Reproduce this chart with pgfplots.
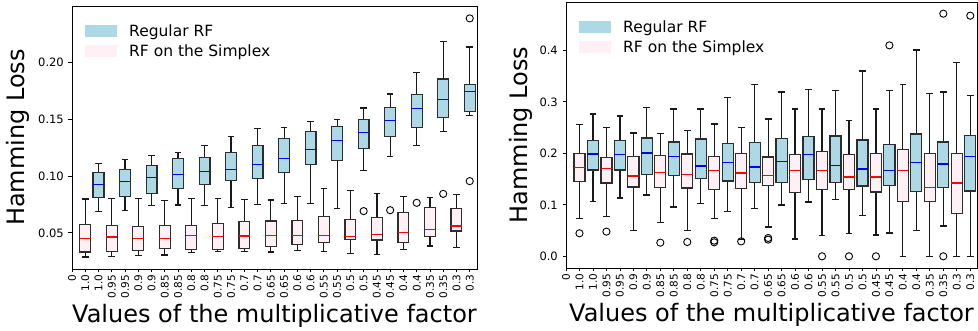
\documentclass[border=0pt]{standalone}
\usepackage{fontspec}
\setmainfont{DejaVu Sans}
\usepackage{pgfplots}
\pgfplotsset{compat=1.18}
\definecolor{lblue}{RGB}{173,216,230}
\definecolor{lpink}{RGB}{255,240,245}
\definecolor{boxedge}{RGB}{45,45,45}
\pgfplotsset{
  whisk/.style={forget plot, black!90, line width=1.2pt, unbounded coords=jump, mark=none},
  bluebox/.style={forget plot, fill=lblue, draw=boxedge, line width=1.2pt, mark=none},
  pinkbox/.style={forget plot, fill=lpink, draw=boxedge, line width=1.2pt, mark=none},
  bluemed/.style={forget plot, blue, line width=1.2pt, mark=none},
  pinkmed/.style={forget plot, red, line width=1.2pt, mark=none},
  outl/.style={forget plot, only marks, mark=o, mark size=3.6pt, black, mark options={line width=0.9pt}},
  common/.style={scale only axis, xmin=0, xtick={0,...,30}, tick pos=left,
    xticklabels={0,1.0,1.0,0.95,0.95,0.9,0.9,0.85,0.85,0.8,0.8,0.75,0.75,0.7,0.7,0.65,0.65,0.6,0.6,0.55,0.55,0.5,0.5,0.45,0.45,0.4,0.4,0.35,0.35,0.3,0.3},
    x tick label style={rotate=90, anchor=east, font=\fontsize{10.5}{12}\selectfont, inner sep=2pt},
    y tick label style={font=\fontsize{11.5}{13}\selectfont, inner sep=4.5pt},
    /pgf/number format/assume math mode=true,
    tick align=outside, major tick length=3.5pt, tick style={black, line width=0.8pt},
    axis line style={line width=0.8pt},
    xlabel={Values of the multiplicative factor}, ylabel={Hamming Loss},
    label style={font=\fontsize{24}{28}\selectfont},
    legend style={at={(0,1)}, anchor=north west, draw=none, fill=none,
      font=\fontsize{15.5}{18}\selectfont, row sep=3.5pt,
      inner xsep=12.5pt, inner ysep=17pt, nodes={inner sep=1.5pt}},
    legend cell align=left,
    legend image code/.code={\fill[#1] (0pt,-6pt) rectangle (32pt,6pt); \path (43pt,0pt);},
  }
}
% \bx{position}{lower whisker}{lower quartile}{median}{upper quartile}{upper whisker}{blue|pink}
\newcommand\bx[7]{%
  \pgfmathsetmacro\bxl{#1-0.41}\pgfmathsetmacro\bxr{#1+0.41}%
  \pgfmathsetmacro\cpl{#1-0.25}\pgfmathsetmacro\cpr{#1+0.25}%
  \addplot[whisk] coordinates {(\cpl,#2) (\cpr,#2) (nan,nan) (#1,#2) (#1,#3) (nan,nan) (#1,#5) (#1,#6) (nan,nan) (\cpl,#6) (\cpr,#6)};
  \addplot[#7box] coordinates {(\bxl,#3) (\bxr,#3) (\bxr,#5) (\bxl,#5)} --cycle;
  \addplot[#7med] coordinates {(\bxl,#4) (\bxr,#4)};
}
\begin{document}
\begin{tikzpicture}
\begin{axis}[common, at={(72pt,62pt)}, anchor=south west, width=405pt, height=263pt,
  xmax=30.55, ymin=0.0182, ymax=0.2499, ytick={0.05,0.10,0.15,0.20},
  yticklabel style={/pgf/number format/fixed, /pgf/number format/fixed zerofill, /pgf/number format/precision=2},
  xlabel style={at={(axis description cs:0.5,0)}, anchor=north, yshift=-35pt, inner sep=0pt},
  ylabel style={at={(axis description cs:-0.134,0.5)}, anchor=center, inner sep=0pt}]
\addlegendimage{fill=lblue, draw=none}
\addlegendimage{fill=lpink, draw=none}
\legend{Regular RF, RF on the Simplex}
% RF on the Simplex
\bx{1}{0.0287}{0.0331}{0.0454}{0.0572}{0.0798}{pink}
\bx{3}{0.0293}{0.0337}{0.0463}{0.0566}{0.0803}{pink}
\bx{5}{0.0299}{0.0346}{0.0449}{0.0557}{0.0800}{pink}
\bx{7}{0.0305}{0.0363}{0.0451}{0.0566}{0.0783}{pink}
\bx{9}{0.0325}{0.0352}{0.0475}{0.0563}{0.0803}{pink}
\bx{11}{0.0334}{0.0357}{0.0466}{0.0586}{0.0800}{pink}
\bx{13}{0.0334}{0.0366}{0.0472}{0.0598}{0.0795}{pink}
\bx{15}{0.0331}{0.0381}{0.0475}{0.0604}{0.0789}{pink}
\bx{17}{0.0343}{0.0399}{0.0475}{0.0610}{0.0818}{pink}
\bx{19}{0.0337}{0.0416}{0.0475}{0.0642}{0.0891}{pink}
\bx{21}{0.0317}{0.0440}{0.0466}{0.0616}{0.0874}{pink}
\bx{23}{0.0308}{0.0437}{0.0484}{0.0636}{0.0850}{pink}
\bx{25}{0.0352}{0.0416}{0.0507}{0.0677}{0.0818}{pink}
\bx{27}{0.0384}{0.0469}{0.0528}{0.0727}{0.0809}{pink}
\bx{29}{0.0372}{0.0516}{0.0560}{0.0712}{0.0839}{pink}
% Regular RF
\bx{2}{0.0692}{0.0809}{0.0924}{0.1032}{0.1108}{blue}
\bx{4}{0.0698}{0.0824}{0.0950}{0.1056}{0.1147}{blue}
\bx{6}{0.0739}{0.0850}{0.0988}{0.1097}{0.1182}{blue}
\bx{8}{0.0745}{0.0888}{0.1015}{0.1152}{0.1208}{blue}
\bx{10}{0.0742}{0.0929}{0.1038}{0.1167}{0.1273}{blue}
\bx{12}{0.0724}{0.0959}{0.1059}{0.1208}{0.1346}{blue}
\bx{14}{0.0751}{0.0982}{0.1100}{0.1270}{0.1419}{blue}
\bx{16}{0.0759}{0.1032}{0.1152}{0.1334}{0.1428}{blue}
\bx{18}{0.0756}{0.1103}{0.1232}{0.1393}{0.1478}{blue}
\bx{20}{0.0715}{0.1138}{0.1311}{0.1434}{0.1498}{blue}
\bx{22}{0.1050}{0.1243}{0.1384}{0.1496}{0.1601}{blue}
\bx{24}{0.1170}{0.1349}{0.1487}{0.1607}{0.1724}{blue}
\bx{26}{0.1267}{0.1431}{0.1598}{0.1716}{0.1912}{blue}
\bx{28}{0.1393}{0.1516}{0.1677}{0.1856}{0.2185}{blue}
\bx{30}{0.1534}{0.1572}{0.1748}{0.1809}{0.2138}{blue}
\addplot[outl] coordinates {(22,0.0692) (24,0.0700) (26,0.0765) (28,0.0844) (30,0.0956) (30,0.2390)};
\end{axis}
\begin{axis}[common, at={(566pt,63pt)}, anchor=south west, width=411pt, height=266pt,
  xmax=30.5, ymin=-0.0227, ymax=0.4939, ytick={0,0.1,0.2,0.3,0.4},
  yticklabel style={/pgf/number format/fixed, /pgf/number format/fixed zerofill, /pgf/number format/precision=1},
  xlabel style={at={(axis description cs:0.5,0)}, anchor=north, yshift=-35pt, inner sep=0pt},
  ylabel style={at={(axis description cs:-0.1095,0.5)}, anchor=center, inner sep=0pt}]
\addlegendimage{fill=lblue, draw=none}
\addlegendimage{fill=lpink, draw=none}
\legend{Regular RF, RF on the Simplex}
% RF on the Simplex
\bx{1}{0.0738}{0.1450}{0.1728}{0.2000}{0.2557}{pink}
\bx{3}{0.0770}{0.1424}{0.1702}{0.1916}{0.2505}{pink}
\bx{5}{0.0505}{0.1346}{0.1560}{0.1935}{0.2395}{pink}
\bx{7}{0.0654}{0.1333}{0.1631}{0.1955}{0.2382}{pink}
\bx{9}{0.0505}{0.1327}{0.1592}{0.1987}{0.2440}{pink}
\bx{11}{0.0731}{0.1294}{0.1663}{0.1935}{0.2570}{pink}
\bx{13}{0.0330}{0.1314}{0.1618}{0.2000}{0.2505}{pink}
\bx{15}{0.0570}{0.1379}{0.1573}{0.1929}{0.2667}{pink}
\bx{17}{0.0337}{0.1236}{0.1663}{0.1981}{0.2861}{pink}
\bx{19}{0.0401}{0.1294}{0.1663}{0.2039}{0.2861}{pink}
\bx{21}{0.0440}{0.1294}{0.1540}{0.1981}{0.2634}{pink}
\bx{23}{0.0414}{0.1249}{0.1540}{0.2000}{0.2861}{pink}
\bx{25}{0.0}{0.1068}{0.1663}{0.2078}{0.3340}{pink}
\bx{27}{0.0}{0.1068}{0.1333}{0.2000}{0.3165}{pink}
\bx{29}{0.0}{0.0828}{0.1424}{0.2000}{0.3760}{pink}
% Regular RF
\bx{2}{0.1061}{0.1676}{0.1987}{0.2246}{0.2764}{blue}
\bx{4}{0.1133}{0.1676}{0.1981}{0.2246}{0.2725}{blue}
\bx{6}{0.1191}{0.1586}{0.2006}{0.2298}{0.2887}{blue}
\bx{8}{0.0958}{0.1566}{0.1935}{0.2220}{0.2861}{blue}
\bx{10}{0.1023}{0.1515}{0.1754}{0.2278}{0.2861}{blue}
\bx{12}{0.0874}{0.1463}{0.1825}{0.2194}{0.3081}{blue}
\bx{14}{0.0926}{0.1430}{0.1735}{0.2214}{0.3340}{blue}
\bx{16}{0.0997}{0.1437}{0.1838}{0.2291}{0.3191}{blue}
\bx{18}{0.1055}{0.1489}{0.1974}{0.2324}{0.3236}{blue}
\bx{20}{0.1107}{0.1430}{0.1767}{0.2337}{0.3217}{blue}
\bx{22}{0.0796}{0.1366}{0.1696}{0.2259}{0.3599}{blue}
\bx{24}{0.0453}{0.1372}{0.1663}{0.2168}{0.3217}{blue}
\bx{26}{0.0505}{0.1256}{0.1819}{0.2375}{0.4006}{blue}
\bx{28}{0.0589}{0.1333}{0.1793}{0.2220}{0.3191}{blue}
\bx{30}{0.0}{0.1269}{0.1935}{0.2343}{0.3126}{blue}
\addplot[outl] coordinates {(1,0.0447) (3,0.0479) (7,0.0265) (9,0.0278) (11,0.0304) (11,0.0272) (13,0.0290) (15,0.0356) (15,0.0324) (19,0.0) (21,0.0) (23,0.0) (24,0.4097) (28,0.4712) (28,0.0) (30,0.4673)};
\end{axis}
\pgfresetboundingbox
\path[use as bounding box] (0,0) rectangle (978pt,331pt);
\end{tikzpicture}
\end{document}
